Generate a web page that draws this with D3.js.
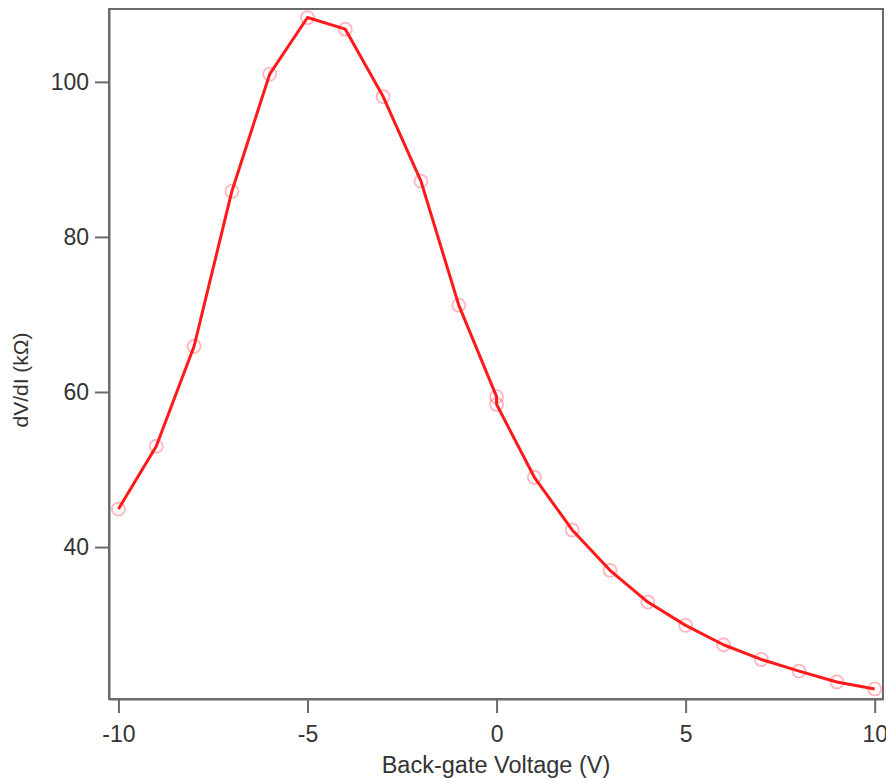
<!DOCTYPE html>
<html>
<head>
<meta charset="utf-8">
<script src="https://cdn.jsdelivr.net/npm/d3@7"></script>
<style>
  html, body { margin: 0; padding: 0; background: #fff; }
  svg { display: block; }
  text { font-family: "Liberation Sans", Arial, sans-serif; fill: #333; }
</style>
</head>
<body>
<svg id="chart" width="886" height="778"></svg>
<script>
const voltage = [-10, -9, -8, -7, -6, -5, -4, -3, -2, -1, 0, 0, 1, 2, 3, 4, 5, 6, 7, 8, 9, 10];
const resistance = [44.9, 53.0, 65.9, 85.9, 101.0, 108.3, 106.8, 98.1, 87.2, 71.2, 59.4, 58.4, 49.0, 42.2, 37.0, 32.9, 29.9, 27.4, 25.5, 24.0, 22.6, 21.7];
const xTicks = [-10, -5, 0, 5, 10];
const yTicks = [40, 60, 80, 100];
const xTitle = "Back-gate Voltage (V)";
const yTitle = "dV/dI (kΩ)";

const W = 886, H = 778;
const margin = { left: 109, top: 9, right: 3, bottom: 79 };
const svg = d3.select("#chart");

const x = d3.scaleLinear().domain([-10.25, 10.22]).range([margin.left, W - margin.right]);
const y = d3.scaleLinear().domain([20.4, 109.4]).range([H - margin.bottom, margin.top]);

const axisColor = "#6a6a6a";
const fmt = d => String(d); // plain hyphen minus like the reference

// frame
svg.append("rect")
  .attr("x", margin.left).attr("y", margin.top)
  .attr("width", W - margin.right - margin.left)
  .attr("height", H - margin.bottom - margin.top)
  .attr("fill", "none").attr("stroke", axisColor).attr("stroke-width", 2);

// x axis
const gx = svg.append("g")
  .attr("transform", `translate(0,${H - margin.bottom})`)
  .call(d3.axisBottom(x).tickValues(xTicks).tickSizeInner(14).tickSizeOuter(0).tickPadding(13).tickFormat(fmt));
gx.select(".domain").attr("stroke", axisColor).attr("stroke-width", 2);
gx.selectAll(".tick line").attr("stroke", axisColor).attr("stroke-width", 2);
gx.selectAll(".tick text").style("font-size", "23px").attr("fill", "#333")
  .style("font-family", "'Liberation Sans', Arial, sans-serif");

// y axis
const gy = svg.append("g")
  .attr("transform", `translate(${margin.left},0)`)
  .call(d3.axisLeft(y).tickValues(yTicks).tickSizeInner(14).tickSizeOuter(0).tickPadding(6).tickFormat(fmt));
gy.select(".domain").attr("stroke", axisColor).attr("stroke-width", 2);
gy.selectAll(".tick line").attr("stroke", axisColor).attr("stroke-width", 2);
gy.selectAll(".tick text").style("font-size", "23px").attr("fill", "#333")
  .style("font-family", "'Liberation Sans', Arial, sans-serif");

// titles
svg.append("text")
  .attr("x", 496).attr("y", 773)
  .attr("text-anchor", "middle")
  .style("font-size", "23.5px")
  .text(xTitle);

svg.append("text")
  .attr("transform", `translate(28,380) rotate(-90)`)
  .attr("text-anchor", "middle")
  .style("font-size", "21px")
  .text(yTitle);

const data = voltage.map((v, i) => ({ v, r: resistance[i] }));

// markers
svg.append("g").selectAll("circle")
  .data(data).enter().append("circle")
  .attr("cx", d => x(d.v)).attr("cy", d => y(d.r))
  .attr("r", 6.5)
  .attr("fill", "none")
  .attr("stroke", "rgba(255,90,110,0.45)")
  .attr("stroke-width", 1.8);

// line
svg.append("path")
  .datum(data)
  .attr("fill", "none")
  .attr("stroke", "#ff1a1a")
  .attr("stroke-width", 3)
  .attr("stroke-linejoin", "round")
  .attr("d", d3.line().x(d => x(d.v)).y(d => y(d.r)));
</script>
</body>
</html>
